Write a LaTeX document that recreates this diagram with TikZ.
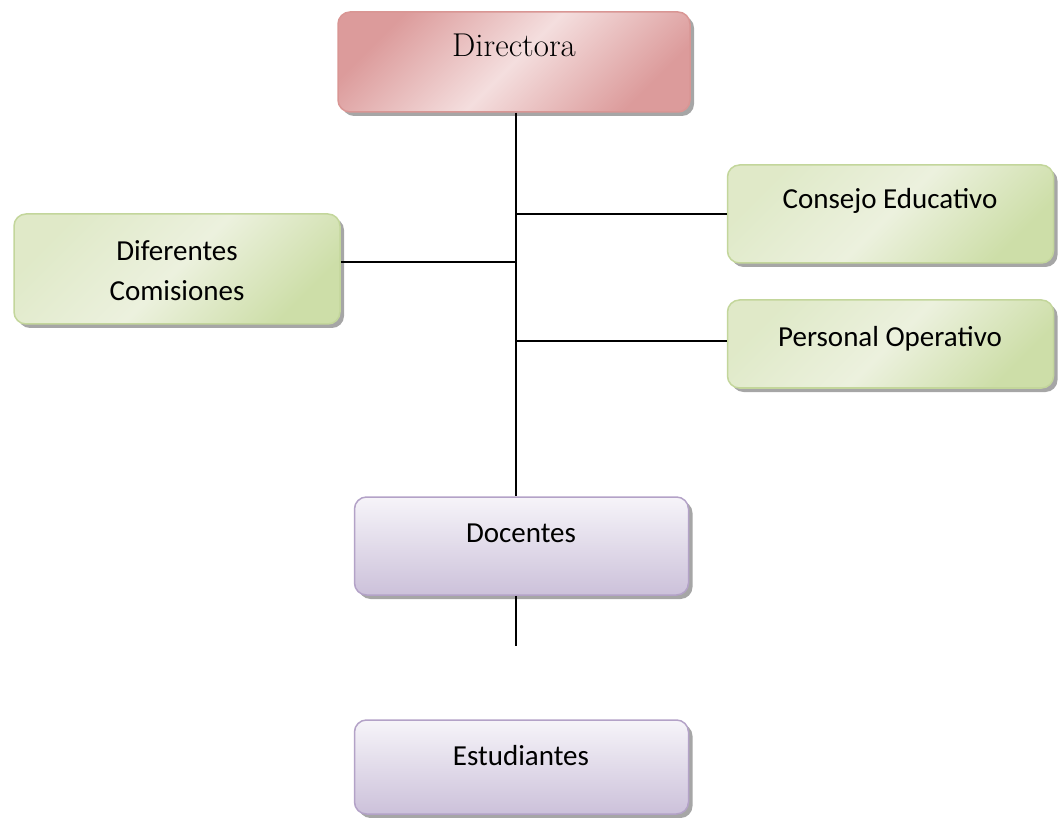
\documentclass[tikz,border=0pt]{standalone}
\usepackage{fontspec}
\setmainfont{Carlito}
\newfontfamily\lmserif{Latin Modern Roman}
\usetikzlibrary{shadows}
\definecolor{redline}{RGB}{217,150,148}
\definecolor{redlight}{RGB}{244,222,222}
\definecolor{reddark}{RGB}{220,155,155}
\definecolor{greenline}{RGB}{195,214,155}
\definecolor{greenlight}{RGB}{236,241,222}
\definecolor{greendark}{RGB}{205,222,168}
\definecolor{purpleline}{RGB}{179,162,199}
\definecolor{purplelight}{RGB}{246,244,249}
\definecolor{purpledark}{RGB}{204,193,218}
\tikzset{
  box/.style={draw, line width=1.5pt, rounded corners=12pt, inner sep=0pt,
    drop shadow={shadow xshift=4pt, shadow yshift=-4pt, fill=black, opacity=0.35}},
  redbox/.style={box, draw=redline, left color=reddark, right color=reddark, middle color=redlight, shading angle=45},
  greenbox/.style={box, draw=greenline, left color=greenlight!60!greendark, right color=greendark, middle color=greenlight, shading angle=45},
  purplebox/.style={box, draw=purpleline, top color=purplelight, bottom color=purpledark},
  lbl/.style={font=\fontsize{29}{40}\selectfont, anchor=base, inner sep=0pt},
  conn/.style={draw=black, line width=1.3pt}
}
\begin{document}
\begin{tikzpicture}[x=1pt,y=-1pt]
\useasboundingbox (0,0) rectangle (1058,818);
% boxes
\node[redbox, minimum width=352pt, minimum height=100pt] (dir) at (514,62) {};
\node[greenbox, minimum width=326pt, minimum height=110pt] (com) at (177,269) {};
\node[greenbox, minimum width=326pt, minimum height=98pt] (ce) at (890.5,214) {};
\node[greenbox, minimum width=326pt, minimum height=88pt] (po) at (890.5,344) {};
\node[purplebox, minimum width=334pt, minimum height=98pt] (doc) at (521.5,546) {};
\node[purplebox, minimum width=334pt, minimum height=94pt] (est) at (521.5,767) {};
% labels
\node[lbl, font=\lmserif\fontsize{33}{38}\selectfont] (tdir) at (514,57) {Directora};
\node[font=\fontsize{29}{40}\selectfont, align=center, inner sep=0pt] (tcom) at (177,271) {Diferentes\\Comisiones};
\node[lbl] (tce) at (890,209) {Consejo Educativo};
\node[lbl] (tpo) at (890,347) {Personal Operativo};
\node[lbl] (tdoc) at (521,542) {Docentes};
\node[lbl] (test) at (521,765) {Estudiantes};
% connectors
\coordinate (trunk) at (516,0);
\coordinate (j1) at (516,214);
\coordinate (j2) at (516,262);
\coordinate (j3) at (516,341);
\coordinate (dend) at (516,646);
\draw[conn] (dir.south -| trunk) -- (doc.north -| trunk);
\draw[conn] (j1) -- (ce.west |- j1);
\draw[conn] (com.east |- j2) -- (j2);
\draw[conn] (j3) -- (po.west |- j3);
\draw[conn] (doc.south -| dend) -- (dend);
\end{tikzpicture}
\end{document}
